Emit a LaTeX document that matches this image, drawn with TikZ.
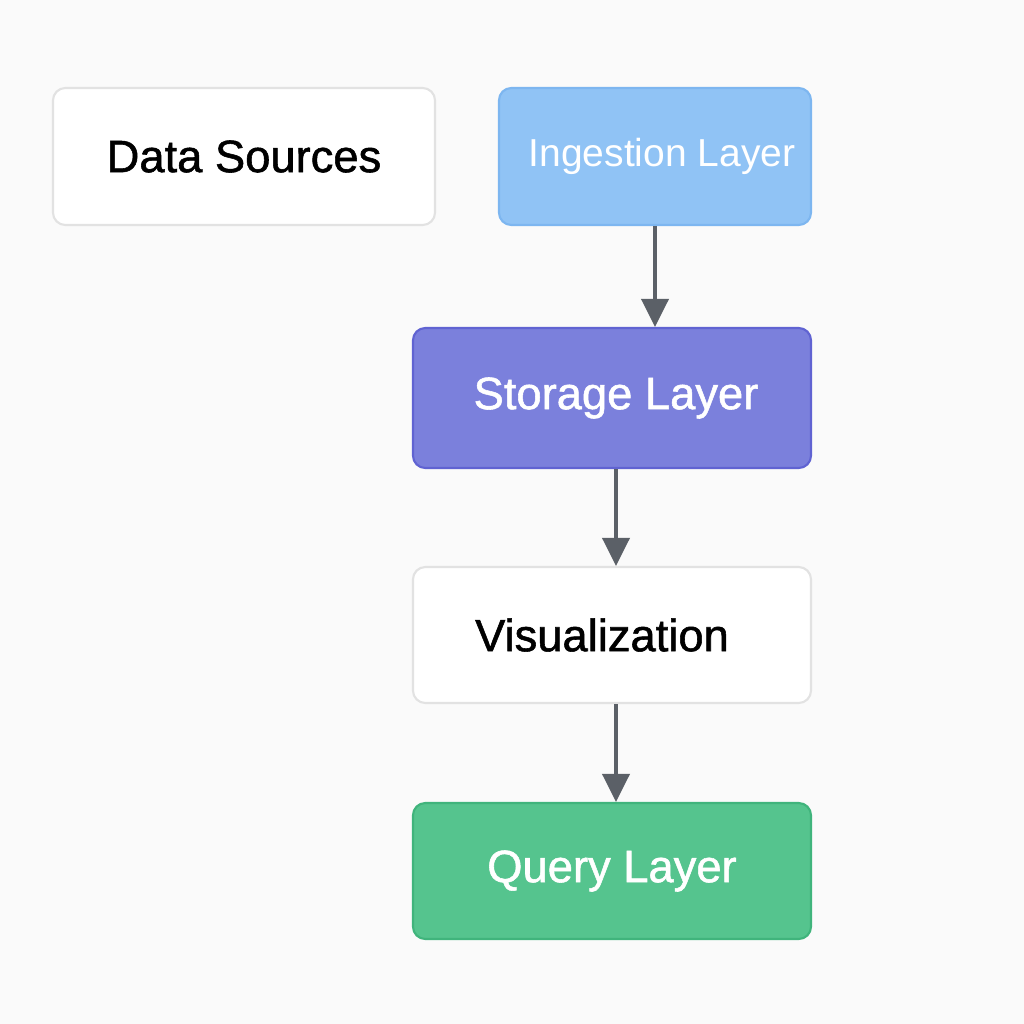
\documentclass[tikz,border=0pt]{standalone}
\usepackage{fontspec}
\setmainfont{Liberation Sans}
\newfontfamily\medfont{Liberation Sans}[FakeBold = 1.2]
\usepackage{xcolor}
\usepackage{tikz}
\usetikzlibrary{arrows.meta}

\definecolor{bgpaper}{HTML}{FAFAFA}
\definecolor{lineframe}{HTML}{E2E2E2}
\definecolor{ingestfill}{HTML}{90C3F5}
\definecolor{ingestline}{HTML}{7DB6F0}
\definecolor{storefill}{HTML}{7B80DC}
\definecolor{storeline}{HTML}{6063D2}
\definecolor{queryfill}{HTML}{55C48E}
\definecolor{queryline}{HTML}{40B47C}
\definecolor{arrowgray}{HTML}{5B6067}

\tikzset{
    layer/.style = {rectangle, rounded corners = 3.5pt, line width = 0.6pt,
        inner sep = 0pt, font = \medfont\fontsize{12.9}{15}\selectfont},
    plainbox/.style = {layer, draw = lineframe, fill = white, text = black},
    flow/.style = {draw = arrowgray, line width = 1.1pt,
        -{Triangle[width = 0.27cm, length = 0.28cm]}}
}

\begin{document}
\begin{tikzpicture}
        \fill[bgpaper] (0, 0) rectangle (10.24, -10.24);
        \useasboundingbox (0, 0) rectangle (10.24, -10.24);

        \node[plainbox, minimum width = 3.82cm, minimum height = 1.37cm] (sources)
            at (2.44, -1.565) {Data Sources};
        \node[layer, draw = ingestline, fill = ingestfill, text = white,
            font = \rmfamily\fontsize{11.1}{14}\selectfont,
            minimum width = 3.12cm, minimum height = 1.37cm] (ingest)
            at (6.55, -1.565) {\hspace{0.14cm}Ingestion Layer};
        \node[layer, draw = storeline, fill = storefill, text = white,
            minimum width = 3.98cm, minimum height = 1.40cm] (storage)
            at (6.12, -3.98) {\hspace{0.08cm}Storage Layer};
        \node[plainbox, minimum width = 3.98cm, minimum height = 1.36cm] (vis)
            at (6.12, -6.35) {Visualization\hspace{0.2cm}\mbox{}};
        \node[layer, draw = queryline, fill = queryfill, text = white,
            minimum width = 3.98cm, minimum height = 1.36cm] (query)
            at (6.12, -8.71) {Query Layer};

        \draw[flow] (ingest.south) -- (ingest.south |- storage.north);
        \draw[flow] ([xshift = 0.04cm]storage.south) -- ([xshift = 0.04cm]vis.north);
        \draw[flow] ([xshift = 0.04cm]vis.south) -- ([xshift = 0.04cm]query.north);
    \end{tikzpicture}
\end{document}
